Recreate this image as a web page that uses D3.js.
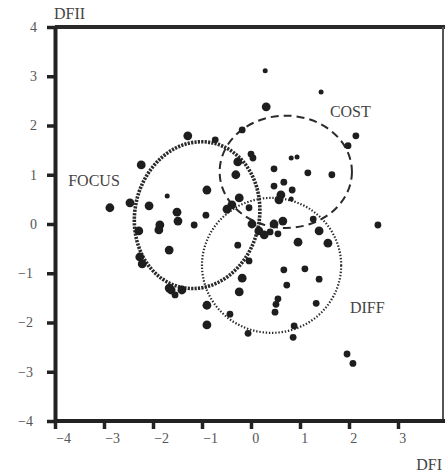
<!DOCTYPE html>
<html>
<head>
<meta charset="utf-8">
<script src="https://cdn.jsdelivr.net/npm/d3@7"></script>
<style>
  body { margin: 0; background: #fff; }
  svg { display: block; font-family: "Liberation Serif", "Times New Roman", serif; }
</style>
</head>
<body>
<div id="chart"></div>
<script>
// discriminant scores (DFI, DFII)
var dfi = [-1.29, -0.73, 0.29, 1.43, 0.31, -0.18, 2.14, 1.98, 0.00, 0.04,
           0.82, 0.94, -2.24, -2.88, -2.47, -2.08, -1.71, -0.90, -1.51, -1.49,
           -1.86, -1.88, -2.29, -1.16, -0.92, -0.49, -1.67, -2.27, -2.22, -1.67,
           -1.63, -1.55, -1.41, -0.90, -0.90, -0.43, -0.27, 0.47, 1.16, 1.65,
           -0.31, 0.47, 0.67, 0.84, 0.61, 0.57, 0.82, -0.24, -0.39, -0.04,
           1.27, 0.65, 0.47, 0.02, 0.16, 0.27, 0.39, 0.55, 1.39, 0.96,
           1.57, -0.27, 2.59, -0.04, -0.18, 0.67, 1.10, 1.39, 0.73, -0.24,
           0.55, 0.51, 0.49, 1.33, -0.06, 0.88, 0.86, 1.96, 2.08];
var dfii = [1.79, 1.71, 3.11, 2.68, 2.38, 1.91, 1.79, 1.59, 1.42, 1.34,
            1.34, 1.36, 1.20, 0.33, 0.43, 0.37, 0.57, 0.69, 0.24, 0.06,
            -0.02, -0.12, -0.14, -0.02, 0.18, 0.30, -0.53, -0.67, -0.81, -1.30,
            -1.34, -1.44, -1.34, -1.65, -2.05, -1.83, 1.26, 1.12, 1.04, 1.00,
            1.00, 0.77, 0.85, 0.69, 0.59, 0.49, 0.51, 0.53, 0.39, 0.33,
            0.10, 0.06, 0.00, 0.00, -0.14, -0.22, -0.16, -0.20, -0.14, -0.37,
            -0.39, -0.43, -0.02, -0.75, -1.10, -0.93, -0.91, -1.12, -1.24, -1.38,
            -1.52, -1.63, -1.79, -1.61, -2.22, -2.07, -2.30, -2.64, -2.83];
// marker weight: 1 small, 2 medium, 3 large
var weight = [3, 2, 1, 1, 3, 2, 2, 2, 2, 2,
              1, 1, 3, 3, 3, 3, 1, 3, 3, 3,
              3, 3, 3, 2, 2, 3, 3, 3, 3, 3,
              3, 2, 3, 3, 3, 2, 3, 2, 2, 2,
              3, 2, 2, 2, 3, 3, 1, 3, 3, 2,
              2, 3, 3, 3, 3, 3, 2, 2, 3, 3,
              3, 2, 2, 2, 3, 2, 2, 2, 2, 3,
              2, 2, 2, 2, 2, 2, 2, 2, 2];

// strategy groups
var groupNames = ["FOCUS", "COST", "DIFF"];
var groupCx = [-1.10, 0.71, 0.42];
var groupCy = [0.18, 1.06, -0.84];
var groupRx = [1.27, 1.35, 1.42];
var groupRy = [1.50, 1.14, 1.37];
var groupTilt = [12, 0, 0];
var labelX = [-3.73, 1.61, 2.02];
var labelY = [0.77, 2.17, -1.81];

var ticks = [-4, -3, -2, -1, 0, 1, 2, 3, 4];
var xTicks = [-4, -3, -2, -1, 0, 1, 2, 3];

var width = 445, height = 476;

var svg = d3.select("#chart").append("svg")
    .attr("width", width)
    .attr("height", height);

var x = d3.scaleLinear().domain([-4, 4]).range([55, 447]);
var y = d3.scaleLinear().domain([-4, 4]).range([421, 27]);
var r = d3.scaleOrdinal().domain([1, 2, 3]).range([2.5, 3.4, 4.4]);

var ink = "#1e1e1e";

// frame (top and right)
svg.append("line")
    .attr("x1", x(-4)).attr("x2", width)
    .attr("y1", y(4)).attr("y2", y(4))
    .attr("stroke", "#2a2a2a").attr("stroke-width", 4);
svg.append("line")
    .attr("x1", width - 2).attr("x2", width - 2)
    .attr("y1", y(4)).attr("y2", y(-4))
    .attr("stroke", "#555").attr("stroke-width", 2);

// group ellipses
var styles = [
    {dash: "2.2,1.2", w: 3.6},
    {dash: "8,5", w: 2},
    {dash: "1.4,1.8", w: 2.2}
];
groupNames.forEach(function(name, i) {
    var cx = x(groupCx[i]), cy = y(groupCy[i]);
    svg.append("ellipse")
        .attr("cx", cx)
        .attr("cy", cy)
        .attr("rx", x(groupCx[i] + groupRx[i]) - cx)
        .attr("ry", cy - y(groupCy[i] + groupRy[i]))
        .attr("transform", "rotate(" + groupTilt[i] + "," + cx + "," + cy + ")")
        .attr("fill", "none")
        .attr("stroke", "#2a2a2a")
        .attr("stroke-width", styles[i].w)
        .attr("stroke-dasharray", styles[i].dash);

    svg.append("text")
        .attr("x", x(labelX[i]))
        .attr("y", y(labelY[i]))
        .attr("font-size", 16)
        .attr("fill", "#444")
        .text(name);
});

// points
var pts = dfi.map(function(d, i) { return {x: d, y: dfii[i], w: weight[i]}; });
svg.selectAll(".pt")
    .data(pts)
    .enter().append("circle")
    .attr("class", "pt")
    .attr("cx", function(d) { return x(d.x); })
    .attr("cy", function(d) { return y(d.y); })
    .attr("r", function(d) { return r(d.w); })
    .attr("fill", ink);

// axes
var yAxis = svg.append("g")
    .attr("transform", "translate(" + x(-4) + ",0)")
    .call(d3.axisLeft(y).tickValues(ticks).tickSize(8).tickSizeOuter(0).tickPadding(10));
var xAxis = svg.append("g")
    .attr("transform", "translate(0," + y(-4) + ")")
    .call(d3.axisBottom(x).tickValues(xTicks).tickSize(8).tickSizeOuter(0).tickPadding(4));

[yAxis, xAxis].forEach(function(g) {
    g.select(".domain").attr("stroke", "#222").attr("stroke-width", 4);
    g.selectAll(".tick line").attr("stroke", "#222").attr("stroke-width", 3.5);
    g.selectAll(".tick text")
        .attr("font-family", "Liberation Serif, Times New Roman, serif")
        .attr("font-size", 14)
        .attr("fill", "#555");
});
xAxis.select(".domain").attr("d", "M" + x(-4) + ",0H" + width);
xAxis.selectAll(".tick text").attr("text-anchor", "start").attr("dx", "0.05em");
yAxis.selectAll(".tick text").attr("dx", function(d) { return d < 0 ? -4 : 0; });

// axis titles
svg.append("text")
    .attr("x", x(-4) - 1)
    .attr("y", 19)
    .attr("font-size", 16)
    .attr("fill", "#444")
    .text("DFII");
svg.append("text")
    .attr("x", width - 3)
    .attr("y", 470)
    .attr("text-anchor", "end")
    .attr("font-size", 16)
    .attr("fill", "#444")
    .text("DFI");
</script>
</body>
</html>
